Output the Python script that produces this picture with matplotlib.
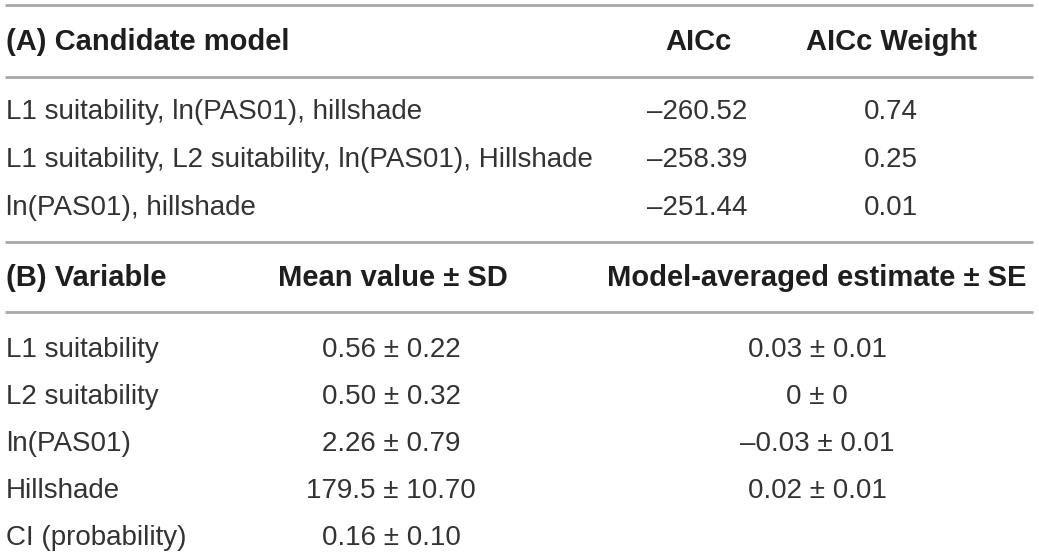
import matplotlib.pyplot as plt

plt.rcParams['font.family'] = ['Liberation Sans', 'DejaVu Sans']

###############################
# table contents
###############################
header_a = ['(A) Candidate model', 'AICc', 'AICc Weight']
models = ['L1 suitability, ln(PAS01), hillshade',
          'L1 suitability, L2 suitability, ln(PAS01), Hillshade',
          'ln(PAS01), hillshade']
aicc = ['\u2013260.52', '\u2013258.39', '\u2013251.44']
aicc_weight = ['0.74', '0.25', '0.01']

header_b = ['(B) Variable', 'Mean value \u00b1 SD', 'Model-averaged estimate \u00b1 SE']
variables = ['L1 suitability', 'L2 suitability', 'ln(PAS01)', 'Hillshade', 'CI (probability)']
mean_sd = ['0.56 \u00b1 0.22', '0.50 \u00b1 0.32', '2.26 \u00b1 0.79',
           '179.5 \u00b1 10.70', '0.16 \u00b1 0.10']
estimate_se = ['0.03 \u00b1 0.01', '0 \u00b1 0', '\u20130.03 \u00b1 0.01',
               '0.02 \u00b1 0.01', '']

###############################
# layout (pixel coords)
###############################
W, H = 1039, 560
fig = plt.figure(figsize=(W / 100, H / 100), dpi=100)
ax = fig.add_axes([0, 0, 1, 1])
ax.set_xlim(0, W)
ax.set_ylim(H, 0)
ax.axis('off')

fs_hdr = 21
fs = 20
line_col = '#a8a8a8'
txt_col = '#333333'
hdr_col = '#1e1e1e'

for y in [5, 77, 242, 312]:
    ax.plot([5, 1033], [y, y], color=line_col, lw=2, solid_capstyle='butt')

# part A
ax.text(6, 42, header_a[0], fontsize=fs_hdr, fontweight='bold', color=hdr_col, va='center', ha='left')
ax.text(698, 42, header_a[1], fontsize=fs_hdr, fontweight='bold', color=hdr_col, va='center', ha='center')
ax.text(892, 42, header_a[2], fontsize=fs_hdr, fontweight='bold', color=hdr_col, va='center', ha='center')
for i, (m, a, w) in enumerate(zip(models, aicc, aicc_weight)):
    y = 112 + i * 48
    ax.text(6, y, m, fontsize=fs, color=txt_col, va='center', ha='left')
    ax.text(697, y, a, fontsize=fs, color=txt_col, va='center', ha='center')
    ax.text(891, y, w, fontsize=fs, color=txt_col, va='center', ha='center')

# part B
ax.text(6, 278, header_b[0], fontsize=fs_hdr, fontweight='bold', color=hdr_col, va='center', ha='left')
ax.text(393, 278, header_b[1], fontsize=fs_hdr, fontweight='bold', color=hdr_col, va='center', ha='center')
ax.text(817, 278, header_b[2], fontsize=fs_hdr, fontweight='bold', color=hdr_col, va='center', ha='center')
for i, (v, m, e) in enumerate(zip(variables, mean_sd, estimate_se)):
    y = 350 + i * 47
    ax.text(6, y, v, fontsize=fs, color=txt_col, va='center', ha='left')
    ax.text(391, y, m, fontsize=fs, color=txt_col, va='center', ha='center')
    ax.text(817, y, e, fontsize=fs, color=txt_col, va='center', ha='center')

fig.savefig('out.png', dpi=100)
